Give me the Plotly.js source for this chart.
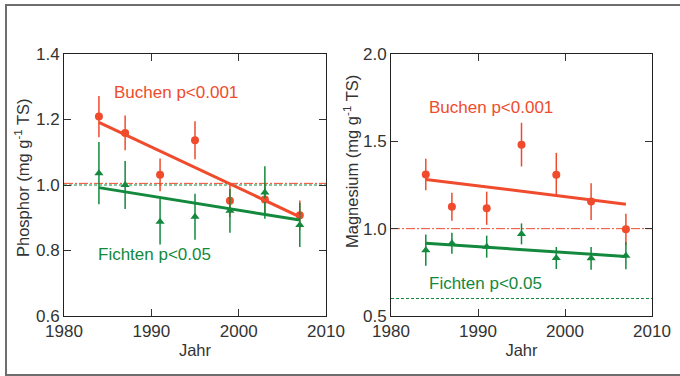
<!DOCTYPE html>
<html><head><meta charset="utf-8">
<script src="https://cdn.plot.ly/plotly-3.0.1.min.js"></script>
<style>html,body{margin:0;padding:0;background:#fff}#chart{width:680px;height:376px}</style>
</head><body><div id="chart"></div>
<script>
const years = [1984, 1987, 1991, 1995, 1999, 2003, 2007];
// Phosphor (mg g-1 TS)
const pBuchen = [1.209, 1.159, 1.031, 1.137, 0.952, 0.956, 0.908];
const pBuchenErr = [0.063, 0.053, 0.05, 0.058, 0.05, 0.05, 0.045];
const pFichten = [1.036, 1.0, 0.888, 0.903, 0.921, 0.977, 0.878];
const pFichtenErr = [0.095, 0.073, 0.07, 0.07, 0.067, 0.08, 0.067];
// Magnesium (mg g-1 TS)
const mgBuchen = [1.310, 1.126, 1.117, 1.481, 1.309, 1.155, 0.996];
const mgBuchenErr = [0.09, 0.08, 0.095, 0.125, 0.125, 0.105, 0.09];
const mgFichten = [0.877, 0.916, 0.897, 0.970, 0.832, 0.830, 0.845];
const mgFichtenErr = [0.09, 0.06, 0.063, 0.06, 0.063, 0.065, 0.077];
// Regression lines (endpoints)
const fitYears = [1984, 2007];
const pBuchenFit = [1.191, 0.903];
const pFichtenFit = [0.992, 0.893];
const mgBuchenFit = [1.282, 1.140];
const mgFichtenFit = [0.916, 0.841];
// Reference levels
const refRange = [1980, 2010];
const pRefBuchen = 1.005, pRefFichten = 1.0;
const mgRefBuchen = 1.0, mgRefFichten = 0.6;
// labels
const xTitle = 'Jahr';
const yTitleP = 'Phosphor (mg g<sup>-1</sup> TS)';
const yTitleMg = 'Magnesium (mg g<sup>-1</sup> TS)';
const labBuchen = 'Buchen p<0.001';
const labFichten = 'Fichten p<0.05';

const RED = '#ef4b2c', GREEN = '#12893c';
const FONT = 'Liberation Sans, Arial, Helvetica, sans-serif';

function refLine(xa, ya, v, color, dash) {
  return {x: refRange, y: [v, v], xaxis: xa, yaxis: ya, mode: 'lines', hoverinfo: 'skip',
    line: {color: color, width: 1, dash: dash}, showlegend: false};
}
function pts(xa, ya, y, e, color, sym, size) {
  return {x: years, y: y, xaxis: xa, yaxis: ya, mode: 'markers', showlegend: false,
    marker: {color: color, symbol: sym, size: size},
    error_y: {type: 'data', array: e, visible: true, color: color, thickness: 1.5, width: 0}};
}
function fit(xa, ya, y, color) {
  return {x: fitYears, y: y, xaxis: xa, yaxis: ya, mode: 'lines', showlegend: false,
    line: {color: color, width: 3}};
}
const GDASH = '3px,2px', RDASH = '9px,2px,2px,2px';

const traces = [
  refLine('x', 'y', pRefFichten, GREEN, GDASH),
  refLine('x', 'y', pRefBuchen, RED, RDASH),
  pts('x', 'y', pBuchen, pBuchenErr, RED, 'circle', 8),
  pts('x', 'y', pFichten, pFichtenErr, GREEN, 'triangle-up', 8),
  fit('x', 'y', pBuchenFit, RED),
  fit('x', 'y', pFichtenFit, GREEN),
  refLine('x2', 'y2', mgRefFichten, GREEN, GDASH),
  refLine('x2', 'y2', mgRefBuchen, RED, RDASH),
  pts('x2', 'y2', mgBuchen, mgBuchenErr, RED, 'circle', 8),
  pts('x2', 'y2', mgFichten, mgFichtenErr, GREEN, 'triangle-up', 8),
  fit('x2', 'y2', mgBuchenFit, RED),
  fit('x2', 'y2', mgFichtenFit, GREEN)
];

const W = 680, H = 376;
const axCommon = {
  showgrid: false, zeroline: false, showline: true, linecolor: '#222', linewidth: 1,
  mirror: 'ticks', ticks: 'inside', ticklen: 7, tickwidth: 1, tickcolor: '#333',
  tickfont: {family: FONT, size: 17, color: '#333'}, fixedrange: true
};
const xa = (dom, anchor) => Object.assign({}, axCommon, {
  domain: dom, anchor: anchor, range: [1980, 2010], tickvals: [1980, 1990, 2000, 2010],
  title: {text: xTitle, font: {family: FONT, size: 16.5, color: '#333'}, standoff: 4}
});
const ya = (dom, anchor, range, dtick) => Object.assign({}, axCommon, {
  domain: dom, anchor: anchor, range: range, dtick: dtick, tick0: range[0], tickformat: '.1f'
});
const yDom = [1 - 316 / H, 1 - 54 / H];
const titleFont = {family: FONT, size: 16.5, color: '#333'};

const layout = {
  width: W, height: H, margin: {l: 0, r: 0, t: 0, b: 0},
  paper_bgcolor: '#fff', plot_bgcolor: '#fff', showlegend: false,
  xaxis: xa([64 / W, 326 / W], 'y'),
  yaxis: ya(yDom, 'x', [0.6, 1.4], 0.2),
  xaxis2: xa([391 / W, 652 / W], 'y2'),
  yaxis2: ya(yDom, 'x2', [0.5, 2.0], 0.5),
  shapes: [{type: 'rect', xref: 'paper', yref: 'paper', x0: 6 / W, x1: 1.02, y0: 1 - 375 / H, y1: 1 - 5 / H,
    line: {color: '#6e6e6e', width: 2}, layer: 'below'}],
  annotations: [
    {xref: 'paper', yref: 'paper', x: 22 / W, y: 1 - 178 / H, xanchor: 'center', yanchor: 'middle', textangle: -90,
      text: yTitleP, showarrow: false, font: titleFont},
    {xref: 'paper', yref: 'paper', x: 351 / W, y: 1 - 162 / H, xanchor: 'center', yanchor: 'middle', textangle: -90,
      text: yTitleMg, showarrow: false, font: titleFont},
    {xref: 'x', yref: 'y', x: 1992.8, y: 1.281, text: labBuchen, showarrow: false, font: {family: FONT, size: 17, color: RED}},
    {xref: 'x', yref: 'y', x: 1990.4, y: 0.789, text: labFichten, showarrow: false, font: {family: FONT, size: 17, color: GREEN}},
    {xref: 'x2', yref: 'y2', x: 1991.5, y: 1.695, text: labBuchen, showarrow: false, font: {family: FONT, size: 17, color: RED}},
    {xref: 'x2', yref: 'y2', x: 1990.9, y: 0.684, text: labFichten, showarrow: false, font: {family: FONT, size: 17, color: GREEN}}
  ]
};
Plotly.newPlot('chart', traces, layout, {displayModeBar: false, staticPlot: true});
</script></body></html>
